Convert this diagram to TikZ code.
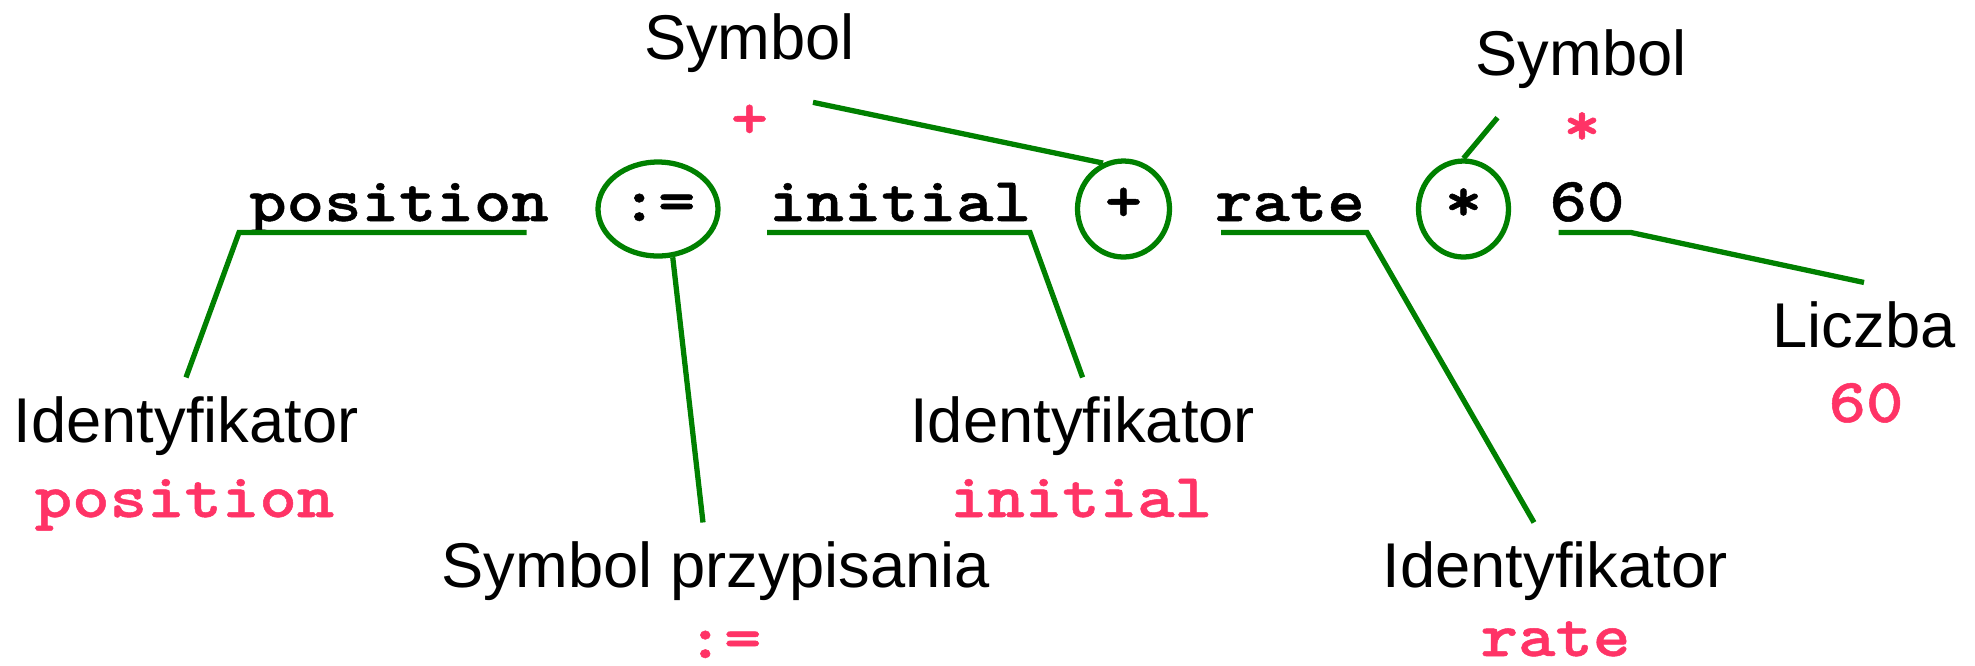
\documentclass[tikz,border=0pt]{standalone}
\usepackage{fontspec}
\usetikzlibrary{shapes.geometric}
\newfontfamily\kindfam{Liberation Sans}
\newfontfamily\codefam{lmmonolt10-bold.otf}[FakeStretch=1.14,FakeBold=0.8]
\definecolor{valpink}{RGB}{255,51,102}
\definecolor{treegreen}{RGB}{0,128,0}
\tikzset{
  kind/.style={font=\kindfam\fontsize{18pt}{21pt}\selectfont,anchor=base,inner sep=1.8mm},
  tok/.style={font=\codefam\fontsize{17.8pt}{20pt}\selectfont,anchor=base,inner sep=0pt},
  val/.style={tok,text=valpink},
  oper/.style={tok,draw=treegreen,line width=1.5pt,ellipse,anchor=center,text height=2.4mm,text depth=0pt},
  link/.style={draw=treegreen,line width=1.5pt}
}

\begin{document}
\begin{tikzpicture}[x=.1mm,y=-.1mm]
\useasboundingbox (0,0) rectangle (1975,665);
% the statement, one token after the other
\node[tok] (tPos) at (399,221) {position};
\node[oper,minimum width=12mm,minimum height=9.4mm] (oAssign) at (658,209) {:=};
\node[tok] (tInit) at (900,221) {initial};
\node[oper,minimum width=9.2mm,minimum height=9.6mm] (oPlus) at (1123.5,209) {+};
\node[tok] (tRate) at (1290,221) {rate};
\node[oper,minimum width=9mm,minimum height=9.6mm] (oMul) at (1463.5,209) {*};
\node[tok] (tNum) at (1587,221) {60};
% what each token is
\node[kind] (kPlus) at (749.5,59) {Symbol};
\node[val] (vPlus) at (749.5,138) {+};
\node[kind] (kMul) at (1581,75) {Symbol};
\node[val] (vMul) at (1582,145) {*};
\node[kind] (kPos) at (186,442) {Identyfikator};
\node[val] (vPos) at (184.5,517) {position};
\node[kind] (kAssign) at (716,587) {Symbol przypisania};
\node[val] (vAssign) at (724,658) {:=};
\node[kind] (kInit) at (1082.6,442) {Identyfikator};
\node[val] (vInit) at (1081,517) {initial};
\node[kind] (kRate) at (1555,587) {Identyfikator};
\node[val] (vRate) at (1555.5,656) {rate};
\node[kind] (kNum) at (1864,347) {Liczba};
\node[val] (vNum) at (1866,422) {60};
% underlines and leaders
\draw[link] (kPos.north) -- ([shift={(-16mm,-1.15mm)}]tPos.base) -- ([shift={(12.75mm,-1.15mm)}]tPos.base);
\draw[link] ([shift={(-13.3mm,-1.15mm)}]tInit.base) -- ([shift={(13mm,-1.15mm)}]tInit.base) -- (kInit.north);
\draw[link] ([shift={(-6.9mm,-1.15mm)}]tRate.base) -- ([shift={(7.7mm,-1.15mm)}]tRate.base) -- ([xshift=-2.1mm]kRate.north);
\draw[link] ([shift={(-2.85mm,-1.15mm)}]tNum.base) -- ([shift={(4.4mm,-1.15mm)}]tNum.base) -- (kNum.north);
\draw[link] (oAssign.-73) -- ([xshift=-1.3mm]kAssign.north);
\draw[link] (oPlus.114) -- ([shift={(6.35mm,1.9mm)}]vPlus.center);
\draw[link] (oMul.north) -- ([shift={(-8.45mm,1.1mm)}]vMul.center);
\end{tikzpicture}
\end{document}
